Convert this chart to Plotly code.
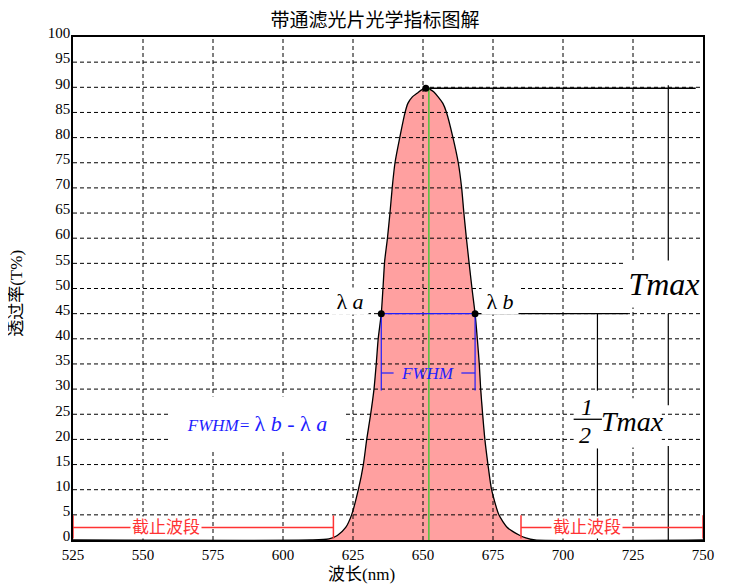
import plotly.graph_objects as go

# ---- transmission curve ----
wl = [525, 610, 616.4, 619.4, 622.4, 624.5, 626.9, 628.7, 629.9, 631.3, 632.5, 633.3,
      634.0, 635.1, 635.7, 636.3, 637.3, 638.2, 639.0, 640.0, 641.7, 643.6, 644.6,
      646.2, 647.9, 649.5, 651.0, 652.5, 653.8, 655.4, 657.1, 658.4, 660.7, 662.6,
      663.8, 664.6, 665.5, 666.4, 667.5, 668.6, 669.4, 670.1, 670.6, 671.3, 672.1,
      673.2, 674.5, 677.1, 680.1, 684.3, 686.7, 690, 750]
trans = [0, 0, 0.2, 0.9, 2.5, 5, 10, 15, 20, 25, 30, 35,
         40, 45, 50, 55.4, 60, 65, 70, 75, 80, 85, 86.8,
         88.1, 88.8, 89.5, 89.8, 89.6, 89.1, 88.1, 86.8, 85, 80, 75,
         70, 65, 60, 55.4, 50, 45, 40, 35, 30, 25, 20,
         15, 10, 5, 2.5, 1.0, 0.4, 0, 0]

# ---- marker values ----
peak_wl, peak_t = 651.0, 89.8
la_wl, lb_wl, half_t = 635.1, 668.6, 45.0
green_wl = 652.1
tmax_v_wl = 737.6
half_v_wl = 712.3
tmax_h_end = 747.4
half_h_end = 723.2
fwhm_bar_t = 33.2
fwhm_bar_low = 29.7
cut_left = [525, 618.0]
cut_right = [685.0, 750]
cut_t = 2.5

x_ticks = [525, 550, 575, 600, 625, 650, 675, 700, 725, 750]
y_ticks = list(range(0, 101, 5))

SERIF = "Liberation Serif, Times New Roman, serif"
CJK = "Liberation Serif, Noto Sans CJK SC, sans-serif"
RED = "#ff3333"
BLUE = "#1e1eff"
PINK = "rgb(255,160,160)"

fig = go.Figure()

# pink band
fig.add_trace(go.Scatter(x=wl, y=trans, mode="lines", fill="tozeroy",
                         fillcolor=PINK, line=dict(width=0), hoverinfo="skip"))

# dashed grid drawn over the fill
gx, gy = [], []
for v in x_ticks[1:-1]:
    gx += [v, v, None]
    gy += [0, 100, None]
for v in y_ticks[1:-1]:
    gx += [525, 750, None]
    gy += [v, v, None]
fig.add_trace(go.Scatter(x=gx, y=gy, mode="lines",
                         line=dict(color="black", width=1, dash="4px,3px"),
                         hoverinfo="skip"))

# curve outline
fig.add_trace(go.Scatter(x=wl, y=trans, mode="lines", line_shape="spline",
                         line=dict(color="black", width=1.3, smoothing=0.6)))


def seg(xs, ys, color, width=1.2):
    fig.add_trace(go.Scatter(x=xs, y=ys, mode="lines",
                             line=dict(color=color, width=width), hoverinfo="skip"))


# Tmax lines
seg([peak_wl, tmax_h_end], [peak_t, peak_t], "black", 1.6)
seg([tmax_v_wl] * 8, [90.4, 55.2, None, half_t, 26.8, None, 18.7, 0], "black")
# half max lines
seg([lb_wl, half_h_end], [half_t, half_t], "black")
seg([half_v_wl] * 5, [half_t, fwhm_bar_low, None, 18.2, 0], "black")
# green centre line
seg([green_wl, green_wl], [0, peak_t], "#22cc22", 1.2)
# FWHM (blue)
seg([la_wl, lb_wl], [half_t, half_t], BLUE)
seg([la_wl, la_wl, None, lb_wl, lb_wl], [half_t, fwhm_bar_low, None, half_t, fwhm_bar_low], BLUE)
seg([la_wl, 639.5, None, 663.7, lb_wl], [fwhm_bar_t] * 2 + [None] + [fwhm_bar_t] * 2, BLUE)
# cut-off bands (red)
for band in (cut_left, cut_right):
    seg(band, [cut_t, cut_t], RED, 1.5)
    seg([band[0], band[0], None, band[1], band[1]], [0.3, 4.9, None, 0.3, 4.9], RED, 1.5)

# points
fig.add_trace(go.Scatter(x=[peak_wl, la_wl, lb_wl], y=[peak_t, half_t, half_t],
                         mode="markers", marker=dict(color="black", size=7)))

# white box behind the 1/2 Tmax label and the fraction bar
fig.add_shape(type="rect", x0=703.8, x1=735.3, y0=18.4, y1=28.2,
              fillcolor="white", line=dict(width=0), layer="above")
fig.add_shape(type="line", x0=703.8, x1=713.9, y0=24.0, y1=24.0,
              line=dict(color="black", width=1.3), layer="above")

ann = [
    dict(x=623.8, y=47.5, text="λ <i>a</i>", font=dict(size=22, family=SERIF, color="black"),
         bgcolor="white", width=34, height=24),
    dict(x=677.4, y=47.5, text="λ <i>b</i>", font=dict(size=22, family=SERIF, color="black"),
         bgcolor="white", width=34, height=24),
    dict(x=736.2, y=50.8, text="<i>Tmax</i>", font=dict(size=32, family=SERIF, color="black"),
         bgcolor="white", width=74, height=44),
    dict(x=651.6, y=fwhm_bar_t, text="<i>FWHM</i>", font=dict(size=17, family=SERIF, color=BLUE)),
    dict(x=590.6, y=23.2,
         text="<i>FWHM=</i> <span style='font-size:22px'>λ <i>b</i> - λ <i>a</i></span>",
         font=dict(size=17, family=SERIF, color=BLUE), bgcolor="white", width=170, height=50),
    dict(x=558.3, y=cut_t, text="截止波段", font=dict(size=17, family=CJK, color=RED),
         bgcolor="white"),
    dict(x=708.5, y=cut_t, text="截止波段", font=dict(size=17, family=CJK, color=RED),
         bgcolor="white"),
    dict(x=708.4, y=26.5, text="<i>1</i>", font=dict(size=24, family=SERIF, color="black")),
    dict(x=707.9, y=20.8, text="<i>2</i>", font=dict(size=24, family=SERIF, color="black")),
    dict(x=724.9, y=23.6, text="<i>Tmax</i>", font=dict(size=28, family=SERIF, color="black")),
]
for a in ann:
    fig.add_annotation(xref="x", yref="y", showarrow=False, **a)

# axis titles
fig.add_annotation(xref="paper", yref="paper", x=0.458, y=-0.0687, yanchor="middle",
                   text="波长(nm)", showarrow=False,
                   font=dict(size=17, family=CJK, color="black"))
fig.add_annotation(xref="paper", yref="paper", x=-0.09, y=0.49, xanchor="center",
                   yanchor="middle", textangle=-90, text="透过率(T%)", showarrow=False,
                   font=dict(size=17, family=CJK, color="black"))

# page body adds an 8px offset, so the figure is drawn a little smaller
fig.update_layout(
    width=721, height=578,
    margin=dict(l=65, r=26, t=29, b=46, autoexpand=False),
    paper_bgcolor="white", plot_bgcolor="white",
    showlegend=False,
    font=dict(color="black"),
    title=dict(text="带通滤光片光学指标图解", x=0.509, xanchor="center", y=0.978,
               yanchor="middle", font=dict(size=19, family=CJK, color="black")),
)
fig.update_xaxes(range=[525, 750], tickvals=x_ticks, showgrid=False, zeroline=False,
                 showline=True, mirror=True, linecolor="black", linewidth=1.5,
                 ticks="", tickfont=dict(size=15, family=SERIF, color="black"))
fig.update_yaxes(range=[0, 100], tickvals=y_ticks, showgrid=False, zeroline=False,
                 showline=True, mirror=True, linecolor="black", linewidth=1.5,
                 ticks="", ticklabelshift=-4, ticklabelstandoff=-2,
                 tickfont=dict(size=15, family=SERIF, color="black"))

fig.write_html("out.html")
